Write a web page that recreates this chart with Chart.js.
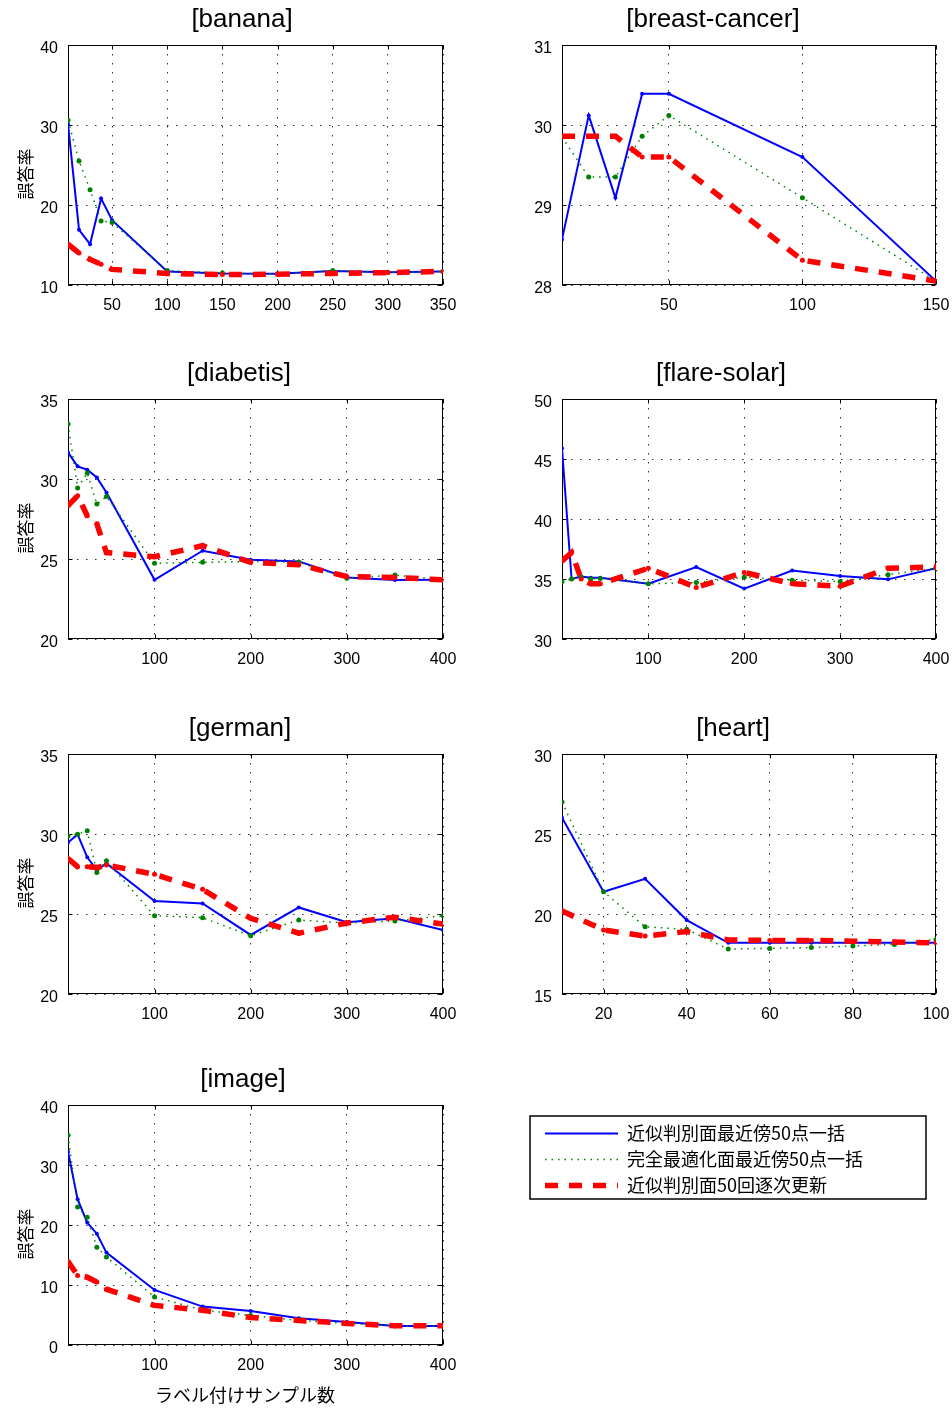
<!DOCTYPE html>
<html><head><meta charset="utf-8">
<script src="https://cdn.jsdelivr.net/npm/chart.js@4/dist/chart.umd.min.js"></script>
<style>
html,body{margin:0;padding:0;background:#fff;}
body{width:952px;height:1408px;position:relative;overflow:hidden;}
canvas{position:absolute;}
</style></head><body>
<canvas id="p0"></canvas><canvas id="p1"></canvas><canvas id="p2"></canvas><canvas id="p3"></canvas>
<canvas id="p4"></canvas><canvas id="p5"></canvas><canvas id="p6"></canvas><canvas id="leg"></canvas>
<script>
// ---------------- data ----------------
const seriesLabels = ['近似判別面最近傍50点一括', '完全最適化面最近傍50点一括', '近似判別面50回逐次更新'];
const yAxisTitle = '誤答率';
const xAxisTitle = 'ラベル付けサンプル数';

const bananaX      = [10, 20, 30, 40, 50, 100, 150, 200, 250, 300, 350];
const bananaBlue   = [30.1, 16.9, 15.1, 20.8, 18.1, 11.7, 11.45, 11.4, 11.75, 11.6, 11.7];
const bananaGreen  = [30.6, 25.5, 21.9, 18.0, 17.8, 11.8, 11.5, 11.4, 11.8, 11.6, 11.7];
const bananaRed    = [15.1, 14.0, 13.2, 12.6, 11.95, 11.45, 11.3, 11.35, 11.45, 11.55, 11.7];
const bananaXTicks = [50, 100, 150, 200, 250, 300, 350];
const bananaYTicks = [10, 20, 30, 40];

const breastX      = [10, 20, 30, 40, 50, 100, 150];
const breastBlue   = [28.57, 30.12, 29.09, 30.39, 30.39, 29.6, 28.05];
const breastGreen  = [29.85, 29.35, 29.35, 29.86, 30.12, 29.09, 28.05];
const breastRed    = [29.86, 29.86, 29.86, 29.6, 29.6, 28.31, 28.05];
const breastXTicks = [50, 100, 150];
const breastYTicks = [28, 29, 30, 31];

const diabetisX      = [10, 20, 30, 40, 50, 100, 150, 200, 250, 300, 350, 400];
const diabetisBlue   = [31.66, 30.79, 30.58, 30.1, 29.16, 23.7, 25.52, 24.96, 24.85, 23.85, 23.69, 23.7];
const diabetisGreen  = [33.44, 29.44, 30.38, 28.44, 28.9, 24.73, 24.79, 24.85, 24.8, 23.8, 24.0, 23.7];
const diabetisRed    = [28.33, 28.96, 27.7, 27.2, 25.4, 25.14, 25.83, 24.79, 24.64, 23.9, 23.85, 23.7];
const diabetisXTicks = [100, 200, 300, 400];
const diabetisYTicks = [20, 25, 30, 35];

const flareX      = [10, 20, 30, 40, 50, 100, 150, 200, 250, 300, 350, 400];
const flareBlue   = [45.9, 35.0, 35.2, 35.1, 35.1, 34.6, 36.0, 34.2, 35.7, 35.25, 34.97, 35.9];
const flareGreen  = [34.8, 35.0, 35.15, 35.0, 35.05, 34.6, 34.7, 35.15, 34.9, 34.8, 35.36, 35.9];
const flareRed    = [36.5, 37.2, 35.0, 34.6, 34.6, 35.9, 34.3, 35.55, 34.6, 34.4, 35.9, 36.0];
const flareXTicks = [100, 200, 300, 400];
const flareYTicks = [30, 35, 40, 45, 50];

const germanX      = [10, 20, 30, 40, 50, 100, 150, 200, 250, 300, 350, 400];
const germanBlue   = [29.47, 29.97, 28.54, 27.75, 28.16, 25.81, 25.66, 23.69, 25.41, 24.48, 24.73, 24.0];
const germanGreen  = [29.87, 29.99, 30.2, 27.6, 28.33, 24.89, 24.77, 23.64, 24.62, 24.44, 24.56, 24.89];
const germanRed    = [28.47, 27.96, 27.96, 27.9, 28.06, 27.48, 26.54, 24.73, 23.8, 24.44, 24.8, 24.37];
const germanXTicks = [100, 200, 300, 400];
const germanYTicks = [20, 25, 30, 35];

const heartX      = [10, 20, 30, 40, 50, 60, 70, 80, 90, 100];
const heartBlue   = [26.02, 21.39, 22.2, 19.62, 18.2, 18.2, 18.2, 18.2, 18.2, 18.2];
const heartGreen  = [27.0, 21.39, 19.2, 19.04, 17.81, 17.85, 17.9, 18.0, 18.1, 18.41];
const heartRed    = [20.19, 19.0, 18.62, 18.9, 18.38, 18.35, 18.35, 18.3, 18.25, 18.2];
const heartXTicks = [20, 40, 60, 80, 100];
const heartYTicks = [15, 20, 25, 30];

const imageX      = [10, 20, 30, 40, 50, 100, 150, 200, 250, 300, 350, 400];
const imageBlue   = [32.2, 24.3, 20.4, 18.55, 15.4, 9.17, 6.4, 5.67, 4.45, 3.83, 3.17, 3.17];
const imageGreen  = [34.95, 23.0, 21.3, 16.3, 14.67, 8.0, 5.83, 4.9, 4.1, 3.6, 3.2, 3.2];
const imageRed    = [13.9, 11.6, 11.3, 10.5, 9.3, 6.6, 5.8, 4.57, 4.1, 3.6, 3.2, 3.2];
const imageXTicks = [100, 200, 300, 400];
const imageYTicks = [0, 10, 20, 30, 40];

// ---------------- layout / style ----------------
const FONT = '"Liberation Sans", Arial, "Noto Sans CJK JP", sans-serif';
const CJK = '"Noto Sans CJK JP", "Liberation Sans", sans-serif';
const COL_LEFT = [0, 476], COL_W = 476;
const ROW_TOP = [0, 354, 709, 1060], ROW_H = [354, 355, 351, 348];
const PLOT_TOP = 45, PLOT_BOTTOM = 285;
const Y_AXIS_W = [68, 86], RIGHT_PAD = [33, 16];
const TICK = 4;

const styles = [
  { color: '#0000ff', width: 2,   dash: [],       radius: 2,   order: 2 },
  { color: '#008000', width: 1.5, dash: [1.5, 5], radius: 2.5, order: 1 },
  { color: '#ff0000', width: 5.5, dash: [13, 11], radius: 2.5, order: 0 },
];

const panels = [
  { title: '[banana]',        titleX: 242, col: 0, row: 0, x: bananaX,   s: [bananaBlue, bananaGreen, bananaRed],       xt: bananaXTicks,   yt: bananaYTicks },
  { title: '[breast-cancer]', titleX: 713, col: 1, row: 0, x: breastX,   s: [breastBlue, breastGreen, breastRed],       xt: breastXTicks,   yt: breastYTicks },
  { title: '[diabetis]',      titleX: 239, col: 0, row: 1, x: diabetisX, s: [diabetisBlue, diabetisGreen, diabetisRed], xt: diabetisXTicks, yt: diabetisYTicks },
  { title: '[flare-solar]',   titleX: 721, col: 1, row: 1, x: flareX,    s: [flareBlue, flareGreen, flareRed],          xt: flareXTicks,    yt: flareYTicks },
  { title: '[german]',        titleX: 240, col: 0, row: 2, x: germanX,   s: [germanBlue, germanGreen, germanRed],       xt: germanXTicks,   yt: germanYTicks },
  { title: '[heart]',         titleX: 733, col: 1, row: 2, x: heartX,    s: [heartBlue, heartGreen, heartRed],          xt: heartXTicks,    yt: heartYTicks },
  { title: '[image]',         titleX: 243, col: 0, row: 3, x: imageX,    s: [imageBlue, imageGreen, imageRed],          xt: imageXTicks,    yt: imageYTicks, xTitle: true },
];

const framePlugin = {
  id: 'frame',
  beforeDatasetsDraw(chart, args, o) {
    const { ctx, chartArea: a, scales: { x, y } } = chart;
    ctx.save();
    ctx.strokeStyle = '#000'; ctx.lineWidth = 1; ctx.setLineDash([]);
    const L = Math.round(a.left) + 0.5, T = Math.round(a.top) + 0.5;
    const R = Math.round(a.right) - 0.5, B = Math.round(a.bottom) - 0.5;
    ctx.strokeRect(L, T, R - L, B - T);
    ctx.beginPath();
    x.ticks.forEach(t => {
      const p = Math.round(x.getPixelForValue(t.value)) + 0.5;
      ctx.moveTo(p, B); ctx.lineTo(p, B - TICK);
      ctx.moveTo(p, T); ctx.lineTo(p, T + TICK);
    });
    y.ticks.forEach(t => {
      const p = Math.round(y.getPixelForValue(t.value)) + 0.5;
      ctx.moveTo(L, p); ctx.lineTo(L + TICK, p);
      ctx.moveTo(R, p); ctx.lineTo(R - TICK, p);
    });
    ctx.stroke();
    ctx.restore();
  },
  afterDraw(chart, args, o) {
    const { ctx, chartArea: a } = chart;
    ctx.save();
    ctx.fillStyle = '#000';
    ctx.textAlign = 'center'; ctx.textBaseline = 'middle';
    ctx.font = '26px ' + FONT;
    ctx.fillText(o.title, o.titleX - o.left, a.top - 25);
    if (o.yTitle) {
      ctx.save();
      ctx.translate(26, (a.top + a.bottom) / 2 + 9);
      ctx.rotate(-Math.PI / 2);
      ctx.font = '17px ' + CJK;
      ctx.fillText(yAxisTitle, 0, 0);
      ctx.restore();
    }
    if (o.xTitle) {
      ctx.font = '18px ' + CJK;
      ctx.fillText(xAxisTitle, 245, a.bottom + 50);
    }
    ctx.restore();
  }
};

panels.forEach((p, i) => {
  const cv = document.getElementById('p' + i);
  const H = ROW_H[p.row];
  cv.width = COL_W; cv.height = H;
  cv.style.left = COL_LEFT[p.col] + 'px'; cv.style.top = ROW_TOP[p.row] + 'px';
  const datasets = p.s.map((vals, k) => ({
    label: seriesLabels[k],
    data: p.x.map((xv, j) => ({ x: xv, y: vals[j] })),
    borderColor: styles[k].color,
    backgroundColor: styles[k].color,
    borderWidth: styles[k].width,
    borderDash: styles[k].dash,
    borderCapStyle: 'butt',
    pointRadius: styles[k].radius,
    pointBorderWidth: 0,
    pointBackgroundColor: styles[k].color,
    tension: 0,
    order: styles[k].order,
  }));
  const gridOpts = { color: 'rgba(0,0,0,0.8)', lineWidth: 1, drawTicks: false };
  new Chart(cv, {
    type: 'line',
    data: { datasets },
    options: {
      responsive: false, animation: false, devicePixelRatio: 1,
      layout: { padding: { left: 0, top: PLOT_TOP, right: RIGHT_PAD[p.col], bottom: 0 } },
      plugins: {
        legend: { display: false }, tooltip: { enabled: false },
        frame: { title: p.title, titleX: p.titleX, left: COL_LEFT[p.col], yTitle: p.col === 0, xTitle: !!p.xTitle },
      },
      scales: {
        x: {
          type: 'linear', min: p.x[0], max: p.xt[p.xt.length - 1],
          afterBuildTicks: s => { s.ticks = p.xt.map(v => ({ value: v })); },
          afterFit: s => { s.height = H - PLOT_BOTTOM; s.paddingLeft = 0; s.paddingRight = 0; },
          ticks: { autoSkip: false, maxRotation: 0, padding: 11, color: '#000', font: { family: FONT, size: 16 } },
          grid: gridOpts,
          border: { display: false, dash: [1.5, 7.5] },
        },
        y: {
          type: 'linear', min: p.yt[0], max: p.yt[p.yt.length - 1],
          afterBuildTicks: s => { s.ticks = p.yt.map(v => ({ value: v })); },
          afterFit: s => { s.width = Y_AXIS_W[p.col]; s.paddingTop = 0; s.paddingBottom = 0; },
          ticks: { autoSkip: false, padding: 10, labelOffset: 4, color: '#000', font: { family: FONT, size: 16 } },
          grid: gridOpts,
          border: { display: false, dash: [1.5, 7.5] },
        },
      },
    },
    plugins: [framePlugin],
  });
});

// ---------------- legend panel ----------------
const legendPlugin = {
  id: 'boxLegend',
  afterDraw(chart) {
    const ctx = chart.ctx;
    const bx = 54, by = 56, bw = 396, bh = 83;
    ctx.save();
    ctx.fillStyle = '#fff'; ctx.fillRect(bx, by, bw, bh);
    ctx.strokeStyle = '#000'; ctx.lineWidth = 1.5; ctx.setLineDash([]);
    ctx.strokeRect(bx, by, bw, bh);
    chart.data.datasets.forEach((d, k) => {
      const yy = 73.5 + k * 26;
      ctx.save();
      ctx.strokeStyle = d.borderColor; ctx.lineWidth = d.borderWidth;
      ctx.setLineDash(d.borderDash); ctx.lineCap = 'butt';
      ctx.beginPath(); ctx.moveTo(69, yy); ctx.lineTo(142, yy); ctx.stroke();
      ctx.restore();
      ctx.fillStyle = '#000'; ctx.textAlign = 'left'; ctx.textBaseline = 'middle';
      ctx.font = '18px ' + CJK;
      ctx.fillText(d.label, 151, yy);
    });
    ctx.restore();
  }
};
const lc = document.getElementById('leg');
lc.width = COL_W; lc.height = 348;
lc.style.left = COL_LEFT[1] + 'px'; lc.style.top = ROW_TOP[3] + 'px';
new Chart(lc, {
  type: 'line',
  data: { datasets: styles.map((st, k) => ({ label: seriesLabels[k], data: [], borderColor: st.color, borderWidth: st.width, borderDash: st.dash })) },
  options: {
    responsive: false, animation: false, devicePixelRatio: 1,
    plugins: { legend: { display: false }, tooltip: { enabled: false } },
    scales: { x: { display: false }, y: { display: false } },
  },
  plugins: [legendPlugin],
});
</script>
</body></html>
